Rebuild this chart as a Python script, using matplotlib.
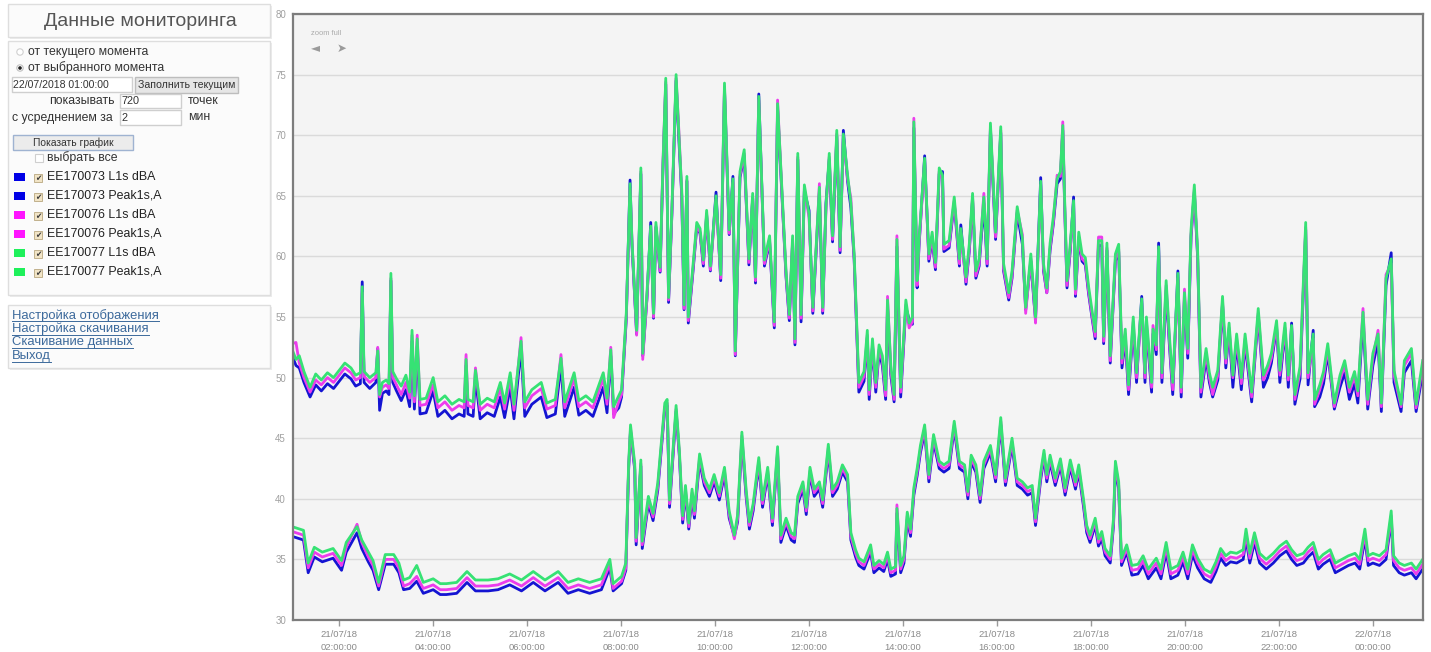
import numpy as np
import pandas as pd
import matplotlib
matplotlib.use("Agg")
import matplotlib.pyplot as plt
from matplotlib.patches import Rectangle, Circle

plt.rcParams['font.family'] = ['Liberation Sans', 'DejaVu Sans']

# ---- данные: часы от 21/07/18 01:00, уровни в дБ ----
# Peak1s,A (верхняя группа)
peak_t = [0.00, 0.08, 0.15, 0.25, 0.38, 0.50, 0.62, 0.75, 0.88, 1.00, 1.12, 1.25, 1.35, 1.45, 1.49, 1.53, 1.65, 1.78, 1.82, 1.86,
          1.92, 2.00, 2.06, 2.10, 2.14, 2.22, 2.32, 2.42, 2.50, 2.55, 2.60, 2.66, 2.72, 2.85, 3.00, 3.10, 3.25, 3.40, 3.55, 3.66,
          3.70, 3.74, 3.85, 3.90, 4.00, 4.15, 4.30, 4.43, 4.52, 4.64, 4.72, 4.87, 4.95, 5.10, 5.30, 5.42, 5.60, 5.72, 5.80, 6.00,
          6.10, 6.25, 6.40, 6.62, 6.70, 6.78, 6.84, 6.95, 7.01, 7.11, 7.19, 7.23, 7.33, 7.42, 7.46, 7.55, 7.63, 7.69, 7.74, 7.83,
          7.89, 7.95, 8.01, 8.08, 8.17, 8.23, 8.29, 8.34, 8.40, 8.43, 8.54, 8.61, 8.68, 8.75, 8.82, 8.90, 9.02, 9.12, 9.20, 9.30,
          9.38, 9.43, 9.53, 9.62, 9.72, 9.80, 9.86, 9.93, 10.05, 10.16, 10.26, 10.33, 10.44, 10.51, 10.58, 10.65, 10.70, 10.76, 10.83, 10.90,
          11.00, 11.08, 11.15, 11.22, 11.29, 11.36, 11.43, 11.50, 11.59, 11.66, 11.73, 11.82, 11.89, 11.96, 12.06, 12.17, 12.24, 12.28, 12.35, 12.42,
          12.49, 12.56, 12.63, 12.67, 12.74, 12.81, 12.87, 12.95, 13.06, 13.13, 13.20, 13.23, 13.30, 13.34, 13.46, 13.55, 13.62, 13.69, 13.77, 13.84,
          13.87, 13.98, 14.09, 14.20, 14.23, 14.34, 14.41, 14.48, 14.55, 14.62, 14.72, 14.79, 14.86, 14.97, 15.08, 15.14, 15.25, 15.32, 15.43, 15.54,
          15.61, 15.72, 15.79, 15.82, 15.93, 15.99, 16.06, 16.13, 16.20, 16.28, 16.35, 16.40, 16.44, 16.49, 16.56, 16.63, 16.67, 16.74, 16.81, 16.88,
          16.95, 17.02, 17.09, 17.16, 17.23, 17.27, 17.34, 17.41, 17.52, 17.59, 17.66, 17.73, 17.80, 17.90, 17.97, 18.08, 18.15, 18.18, 18.29, 18.32,
          18.39, 18.44, 18.51, 18.60, 18.67, 18.74, 18.85, 18.92, 18.99, 19.06, 19.13, 19.20, 19.27, 19.34, 19.45, 19.52, 19.59, 19.70, 19.80, 19.87,
          19.94, 20.02, 20.10, 20.20, 20.28, 20.42, 20.56, 20.67, 20.76, 20.84, 20.95, 21.02, 21.13, 21.20, 21.27, 21.34, 21.45, 21.57, 21.62, 21.73,
          21.76, 21.87, 21.95, 22.04, 22.18, 22.30, 22.40, 22.50, 22.61, 22.68, 22.79, 22.89, 23.00, 23.11, 23.18, 23.28, 23.39, 23.45, 23.60, 23.67,
          23.82, 23.92, 24.06]
peak_77 = [52.3, 51.5, 51.8, 50.5, 49.2, 50.3, 49.8, 50.4, 50.0, 50.6, 51.2, 50.8, 50.2, 50.4, 57.5, 50.5, 50.0, 50.4, 52.2, 48.6,
           49.6, 49.8, 49.5, 58.6, 50.5, 49.9, 49.3, 50.2, 48.8, 53.9, 48.5, 53.2, 48.2, 48.3, 50.0, 48.0, 48.5, 47.8, 48.2, 48.0,
           51.5, 48.2, 48.0, 50.6, 47.8, 48.3, 48.0, 49.6, 47.9, 50.4, 47.8, 53.0, 48.0, 49.0, 49.6, 47.9, 48.2, 51.6, 48.0, 50.4,
           48.1, 48.5, 48.0, 50.4, 48.3, 52.3, 47.6, 48.5, 49.0, 55.3, 66.0, 61.4, 53.9, 67.3, 52.0, 57.0, 62.5, 55.3, 62.8, 59.1,
           67.5, 74.7, 56.6, 63.8, 75.0, 70.0, 65.5, 56.0, 66.6, 55.0, 59.7, 62.8, 62.3, 59.7, 63.8, 59.2, 65.0, 58.5, 74.3, 62.2,
           66.4, 52.2, 67.0, 68.8, 59.8, 65.2, 58.3, 73.2, 59.7, 61.7, 54.6, 72.6, 64.1, 58.8, 55.2, 61.7, 53.2, 68.5, 55.2, 65.9,
           63.5, 55.8, 60.8, 65.7, 55.8, 64.1, 68.5, 61.7, 70.4, 60.8, 70.1, 66.7, 64.4, 60.2, 49.6, 50.5, 53.9, 49.0, 53.2, 49.6,
           52.7, 51.8, 49.0, 56.4, 51.0, 48.6, 61.4, 49.2, 56.4, 54.5, 55.0, 71.1, 58.0, 61.4, 68.1, 60.2, 62.0, 59.5, 67.3, 66.7,
           61.0, 61.3, 64.9, 59.8, 62.3, 58.3, 61.0, 65.2, 58.8, 59.8, 64.9, 59.8, 71.0, 62.0, 70.7, 59.4, 57.0, 58.8, 64.1, 61.5,
           55.8, 60.2, 56.7, 55.0, 66.2, 59.4, 57.4, 61.1, 63.3, 66.4, 67.0, 70.8, 64.7, 58.0, 61.1, 64.6, 57.3, 62.0, 60.2, 59.9,
           57.5, 55.6, 53.8, 61.3, 61.3, 53.4, 61.1, 51.8, 60.2, 61.0, 51.6, 54.0, 49.4, 55.0, 50.4, 56.5, 50.4, 55.0, 49.6, 54.0,
           52.7, 60.8, 50.4, 58.0, 53.4, 49.6, 58.6, 49.2, 57.0, 52.4, 62.2, 65.9, 60.5, 49.2, 52.4, 50.4, 49.2, 50.6, 56.7, 51.6,
           54.5, 50.2, 53.6, 50.0, 53.6, 48.8, 55.7, 50.2, 51.0, 52.0, 54.7, 50.6, 54.5, 50.2, 54.3, 48.6, 50.9, 62.8, 50.4, 53.6,
           48.2, 49.4, 50.5, 52.8, 47.9, 50.2, 51.4, 49.2, 50.5, 48.9, 55.4, 48.2, 52.0, 53.6, 47.9, 58.2, 59.8, 50.6, 47.8, 51.4,
           52.4, 47.8, 51.4]
peak_76 = [52.8, 52.9, 51.2, 50.0, 48.8, 49.8, 49.4, 50.0, 49.6, 50.2, 50.8, 50.4, 49.8, 50.0, 57.0, 50.1, 49.6, 50.0, 52.5, 48.4,
           49.2, 49.4, 49.1, 58.2, 50.0, 49.4, 48.6, 49.6, 48.3, 53.5, 48.0, 53.5, 47.7, 47.8, 49.4, 47.5, 48.0, 47.3, 47.7, 47.5,
           51.9, 47.7, 47.5, 50.8, 47.3, 47.8, 47.5, 49.1, 47.4, 49.9, 47.3, 53.3, 47.5, 48.5, 49.1, 47.4, 47.7, 51.9, 47.5, 49.9,
           47.6, 48.0, 47.5, 49.9, 47.8, 52.5, 46.7, 48.0, 48.6, 55.0, 65.6, 61.4, 53.5, 67.0, 51.5, 56.6, 62.2, 55.0, 62.5, 58.8,
           67.7, 74.4, 56.4, 63.5, 74.7, 70.3, 65.2, 55.7, 66.3, 54.7, 59.4, 62.5, 62.0, 59.4, 63.5, 58.9, 64.7, 58.2, 74.0, 61.9,
           66.1, 51.9, 66.7, 68.5, 59.5, 64.9, 58.0, 72.9, 59.4, 61.4, 54.3, 72.9, 63.8, 58.5, 54.9, 61.4, 52.9, 68.2, 54.9, 65.6,
           63.2, 55.5, 60.5, 66.0, 55.5, 63.8, 68.2, 61.4, 70.1, 60.5, 69.8, 66.4, 64.8, 59.9, 49.2, 50.1, 53.5, 48.6, 52.8, 49.2,
           52.3, 51.4, 48.5, 56.7, 50.6, 48.2, 61.7, 48.8, 56.0, 54.1, 54.6, 71.4, 57.6, 61.0, 67.8, 59.8, 61.6, 59.1, 67.0, 66.4,
           60.6, 60.9, 64.6, 59.4, 62.0, 57.9, 60.6, 64.9, 58.4, 59.4, 65.2, 59.4, 70.7, 61.6, 70.4, 59.0, 56.6, 58.4, 63.8, 61.8,
           55.3, 59.8, 56.3, 54.5, 65.9, 59.0, 57.0, 60.7, 62.9, 66.7, 66.6, 71.1, 64.3, 57.6, 60.7, 64.3, 56.9, 61.6, 59.8, 59.5,
           57.1, 55.2, 53.4, 61.6, 61.6, 53.0, 60.7, 51.4, 59.8, 60.6, 51.2, 53.6, 49.0, 54.6, 50.0, 56.1, 50.0, 54.6, 49.2, 54.3,
           52.3, 60.5, 50.0, 57.6, 53.0, 49.0, 58.2, 48.8, 57.3, 52.0, 61.8, 65.5, 60.1, 48.8, 52.0, 50.0, 48.6, 50.2, 56.3, 51.2,
           54.1, 50.0, 53.2, 49.5, 53.2, 48.4, 55.3, 49.8, 50.6, 51.6, 54.3, 50.2, 54.1, 49.8, 53.9, 48.2, 50.5, 62.4, 50.0, 53.2,
           47.8, 49.0, 50.1, 52.4, 47.6, 49.8, 51.0, 48.8, 50.1, 48.5, 55.7, 47.8, 51.6, 53.9, 47.6, 58.5, 59.4, 50.2, 47.6, 51.0,
           52.0, 47.5, 51.0]
peak_73 = [51.8, 51.0, 50.8, 49.6, 48.4, 49.4, 48.9, 49.5, 49.1, 49.7, 50.3, 49.9, 49.3, 49.5, 57.9, 49.6, 49.1, 49.6, 52.4, 47.3,
           48.7, 48.9, 48.6, 58.0, 49.6, 48.9, 48.1, 49.0, 47.6, 53.0, 47.4, 52.6, 47.0, 47.1, 48.9, 46.8, 47.3, 46.6, 47.0, 46.8,
           51.0, 47.0, 46.8, 50.0, 46.6, 47.1, 46.8, 48.4, 46.7, 49.2, 46.6, 52.4, 46.8, 47.8, 48.4, 46.7, 47.0, 51.0, 46.8, 49.2,
           46.9, 47.3, 46.8, 49.2, 47.1, 51.8, 47.0, 47.5, 48.4, 54.8, 66.3, 61.0, 53.6, 66.8, 51.8, 56.5, 62.8, 54.9, 62.4, 58.7,
           67.2, 74.2, 56.2, 63.4, 74.5, 69.6, 65.0, 55.6, 66.2, 54.5, 59.2, 62.4, 61.9, 59.2, 63.4, 58.8, 65.3, 58.0, 73.8, 61.8,
           66.6, 51.8, 66.5, 68.3, 59.3, 64.8, 57.8, 73.4, 59.2, 61.2, 54.1, 72.2, 63.6, 58.3, 54.7, 61.2, 52.7, 68.0, 54.6, 65.4,
           63.8, 55.3, 60.3, 65.3, 55.3, 64.4, 68.0, 61.2, 69.9, 60.3, 70.4, 66.2, 64.0, 59.7, 48.8, 49.7, 53.3, 48.2, 52.6, 48.8,
           52.1, 51.0, 48.2, 55.8, 50.2, 48.0, 60.8, 48.4, 55.8, 54.8, 54.4, 70.6, 57.4, 60.8, 68.3, 59.6, 61.4, 58.9, 66.8, 67.0,
           60.4, 60.7, 64.4, 59.2, 62.6, 57.7, 60.4, 64.7, 58.2, 59.2, 64.4, 59.2, 70.5, 61.4, 70.2, 58.8, 56.4, 58.2, 63.6, 61.0,
           55.6, 59.6, 56.1, 54.8, 66.5, 58.8, 57.0, 60.5, 62.7, 66.0, 66.4, 70.4, 64.1, 57.4, 60.5, 64.9, 56.7, 61.4, 59.6, 59.3,
           56.9, 55.0, 53.2, 60.9, 60.9, 52.8, 60.5, 51.2, 59.6, 60.4, 50.8, 53.2, 48.6, 54.2, 49.6, 56.7, 49.6, 54.2, 48.8, 53.6,
           51.9, 61.1, 49.6, 57.2, 52.6, 48.6, 58.8, 48.4, 56.6, 51.6, 61.6, 65.3, 59.9, 48.4, 51.6, 49.6, 48.4, 49.8, 56.1, 50.8,
           53.9, 49.2, 52.8, 49.0, 52.8, 48.0, 55.1, 49.2, 50.0, 51.2, 54.1, 49.6, 53.9, 49.2, 54.5, 47.8, 49.9, 62.2, 49.4, 53.9,
           47.6, 48.4, 49.5, 52.0, 47.4, 49.2, 50.4, 48.2, 49.5, 47.9, 54.8, 47.4, 51.0, 53.0, 47.2, 57.6, 60.3, 49.6, 47.2, 50.4,
           51.4, 47.2, 50.4]

# L1s dBA (нижняя группа)
l1s_t = [0.00, 0.24, 0.34, 0.47, 0.64, 0.87, 1.05, 1.15, 1.38, 1.48, 1.62, 1.72, 1.84, 1.98, 2.16, 2.27, 2.37, 2.50, 2.65, 2.79,
         3.00, 3.15, 3.28, 3.50, 3.72, 3.90, 4.17, 4.38, 4.63, 4.88, 5.13, 5.38, 5.66, 5.87, 6.09, 6.33, 6.58, 6.76, 6.83, 7.01,
         7.10, 7.16, 7.20, 7.29, 7.32, 7.42, 7.45, 7.58, 7.68, 7.78, 7.93, 7.98, 8.03, 8.17, 8.24, 8.31, 8.37, 8.44, 8.51, 8.56,
         8.67, 8.77, 8.88, 8.98, 9.09, 9.20, 9.30, 9.41, 9.48, 9.57, 9.66, 9.73, 9.81, 9.93, 10.01, 10.12, 10.22, 10.33, 10.40, 10.51,
         10.62, 10.69, 10.76, 10.87, 10.94, 11.02, 11.11, 11.22, 11.29, 11.41, 11.50, 11.60, 11.71, 11.82, 11.89, 11.99, 12.06, 12.17, 12.31, 12.38,
         12.49, 12.59, 12.67, 12.74, 12.84, 12.87, 12.95, 13.02, 13.09, 13.16, 13.23, 13.30, 13.37, 13.46, 13.55, 13.65, 13.77, 13.87, 13.98, 14.09,
         14.20, 14.31, 14.38, 14.45, 14.55, 14.64, 14.72, 14.86, 14.97, 15.08, 15.18, 15.32, 15.43, 15.54, 15.65, 15.75, 15.82, 15.93, 16.00, 16.06,
         16.13, 16.24, 16.35, 16.45, 16.56, 16.67, 16.74, 16.84, 16.91, 16.98, 17.09, 17.16, 17.23, 17.30, 17.41, 17.48, 17.52, 17.59, 17.65, 17.76,
         17.87, 18.00, 18.11, 18.22, 18.39, 18.49, 18.60, 18.70, 18.85, 18.96, 19.06, 19.16, 19.27, 19.41, 19.55, 19.66, 19.76, 19.87, 19.97, 20.10,
         20.24, 20.30, 20.38, 20.48, 20.59, 20.73, 20.88, 21.02, 21.16, 21.27, 21.38, 21.52, 21.62, 21.73, 21.84, 21.94, 22.09, 22.20, 22.34, 22.48,
         22.62, 22.72, 22.83, 22.90, 23.00, 23.14, 23.28, 23.39, 23.44, 23.56, 23.67, 23.82, 23.92, 24.06]
l1s_77 = [37.7, 37.4, 34.7, 36.0, 35.6, 35.9, 34.9, 36.4, 37.7, 36.6, 35.6, 34.9, 33.1, 35.4, 35.4, 34.7, 33.3, 33.5, 34.5, 33.1,
          33.4, 33.0, 33.0, 33.1, 34.0, 33.3, 33.3, 33.4, 33.8, 33.3, 34.0, 33.3, 34.0, 33.1, 33.4, 33.1, 33.4, 35.0, 33.0, 33.6,
          34.7, 42.9, 46.1, 42.9, 36.8, 43.2, 36.5, 40.2, 38.8, 41.3, 47.9, 48.2, 39.9, 47.7, 44.0, 38.6, 41.1, 38.0, 40.8, 39.0,
          43.7, 41.7, 40.8, 42.0, 40.5, 42.6, 39.0, 37.0, 38.7, 45.5, 40.8, 38.1, 39.6, 43.4, 39.9, 42.6, 38.4, 44.3, 37.0, 38.4,
          37.2, 37.0, 40.2, 41.4, 39.3, 42.6, 40.8, 41.4, 39.9, 44.5, 40.8, 41.4, 42.8, 42.0, 37.2, 35.8, 35.1, 34.8, 36.2, 34.5,
          34.9, 34.6, 35.6, 34.2, 34.4, 39.2, 34.5, 35.3, 38.9, 37.5, 40.9, 42.5, 44.4, 46.1, 42.0, 45.3, 43.1, 42.8, 43.1, 46.4,
          43.1, 42.8, 40.6, 43.6, 42.8, 40.3, 43.1, 44.4, 42.0, 46.7, 41.7, 45.0, 41.7, 41.4, 40.9, 41.1, 38.4, 42.2, 44.0, 42.0,
          43.6, 41.7, 43.3, 40.9, 43.2, 41.4, 42.8, 40.0, 37.8, 37.0, 38.4, 36.7, 37.3, 35.9, 35.3, 38.4, 43.1, 41.4, 35.1, 36.2,
          34.5, 34.6, 35.3, 34.2, 35.1, 34.2, 36.4, 34.2, 34.5, 35.6, 34.2, 36.2, 35.1, 34.2, 33.9, 34.8, 35.9, 35.3, 35.6, 35.5,
          35.8, 37.5, 35.5, 37.2, 35.5, 35.0, 35.5, 36.1, 36.5, 35.8, 35.3, 35.5, 36.0, 36.4, 35.0, 35.4, 35.8, 34.7, 35.0, 35.3,
          35.5, 35.0, 37.5, 35.3, 35.5, 35.3, 35.8, 39.0, 35.3, 34.7, 34.5, 34.7, 34.2, 35.0]
l1s_76 = [37.3, 37.0, 34.3, 35.6, 35.2, 35.5, 34.5, 36.0, 37.9, 36.4, 35.2, 34.5, 32.8, 35.0, 35.0, 34.3, 32.8, 33.0, 33.6, 32.6,
          32.9, 32.5, 32.5, 32.6, 33.5, 32.8, 32.8, 32.9, 33.3, 32.8, 33.5, 32.8, 33.5, 32.6, 32.9, 32.6, 32.9, 34.6, 32.6, 33.2,
          34.3, 42.6, 45.8, 42.6, 36.5, 42.9, 36.2, 39.9, 38.5, 41.0, 47.6, 47.9, 39.6, 47.4, 43.7, 38.3, 40.8, 37.7, 40.5, 38.7,
          43.4, 41.4, 40.5, 41.7, 40.2, 42.3, 38.7, 36.7, 38.4, 45.2, 40.5, 37.8, 39.3, 43.1, 39.6, 42.3, 38.1, 44.0, 36.7, 38.1,
          36.9, 36.7, 39.9, 41.1, 39.0, 42.3, 40.5, 41.1, 39.6, 44.2, 40.5, 41.1, 42.5, 41.7, 36.9, 35.5, 34.8, 34.5, 35.9, 34.2,
          34.6, 34.3, 35.3, 33.9, 34.1, 39.5, 34.2, 35.0, 38.6, 37.2, 40.6, 42.2, 44.1, 45.8, 41.7, 45.0, 42.8, 42.5, 42.8, 46.1,
          42.8, 42.5, 40.3, 43.3, 42.5, 40.0, 42.8, 44.1, 41.7, 46.4, 41.4, 44.7, 41.4, 41.1, 40.6, 40.8, 38.1, 41.9, 43.7, 41.7,
          43.3, 41.4, 43.0, 40.6, 42.9, 41.1, 42.5, 39.7, 37.5, 36.7, 38.1, 36.4, 37.0, 35.6, 35.0, 38.1, 42.8, 41.1, 34.8, 35.9,
          34.1, 34.2, 34.9, 33.8, 34.7, 33.8, 36.0, 33.8, 34.1, 35.2, 33.8, 35.8, 34.7, 33.8, 33.5, 34.4, 35.5, 34.9, 35.2, 35.1,
          35.4, 37.1, 35.1, 36.8, 35.1, 34.6, 35.1, 35.7, 36.1, 35.4, 34.9, 35.1, 35.6, 36.0, 34.6, 35.0, 35.4, 34.3, 34.6, 34.9,
          35.1, 34.6, 37.1, 34.9, 35.1, 34.9, 35.4, 38.6, 34.9, 34.3, 34.1, 34.3, 33.8, 34.6]
l1s_73 = [36.9, 36.6, 33.9, 35.2, 34.8, 35.1, 34.1, 35.6, 37.2, 35.9, 34.8, 34.1, 32.5, 34.6, 34.6, 33.9, 32.5, 32.6, 33.2, 32.2,
          32.5, 32.1, 32.1, 32.2, 33.1, 32.4, 32.4, 32.5, 32.9, 32.4, 33.1, 32.4, 33.1, 32.2, 32.5, 32.2, 32.5, 34.3, 32.4, 33.0,
          34.1, 42.4, 45.6, 42.4, 36.2, 42.7, 35.9, 39.6, 38.2, 40.7, 47.4, 47.7, 39.3, 47.2, 43.5, 38.0, 40.5, 37.5, 40.2, 38.4,
          43.1, 41.1, 40.2, 41.4, 39.9, 42.0, 38.4, 36.9, 38.1, 44.9, 40.2, 37.5, 39.0, 42.8, 39.3, 42.0, 37.8, 43.7, 36.4, 37.8,
          36.6, 36.4, 39.6, 40.8, 38.7, 42.0, 40.2, 40.8, 39.3, 43.9, 40.2, 40.8, 42.2, 41.4, 36.6, 35.2, 34.5, 34.2, 35.6, 33.9,
          34.3, 34.0, 35.0, 33.6, 33.8, 38.8, 33.9, 34.7, 38.3, 36.9, 40.3, 41.9, 43.8, 45.5, 41.4, 44.7, 42.5, 42.2, 42.5, 45.8,
          42.5, 42.2, 40.0, 43.0, 42.2, 39.7, 42.5, 43.8, 41.4, 46.1, 41.1, 44.4, 41.1, 40.8, 40.3, 40.5, 37.8, 41.6, 43.4, 41.4,
          43.0, 41.1, 42.7, 40.3, 42.6, 40.8, 42.2, 39.4, 37.2, 36.4, 37.8, 36.1, 36.7, 35.3, 34.7, 37.8, 42.5, 40.8, 34.5, 35.6,
          33.7, 33.8, 34.5, 33.4, 34.3, 33.4, 35.6, 33.4, 33.7, 34.8, 33.4, 35.4, 34.3, 33.4, 33.1, 34.0, 35.1, 34.5, 34.8, 34.7,
          35.0, 36.7, 34.7, 36.4, 34.7, 34.2, 34.7, 35.3, 35.7, 35.0, 34.5, 34.7, 35.2, 35.6, 34.2, 34.6, 35.0, 33.9, 34.2, 34.5,
          34.7, 34.2, 36.7, 34.5, 34.7, 34.5, 35.0, 38.3, 34.5, 33.9, 33.7, 33.9, 33.4, 34.2]

series_names = ['EE170073 L1s dBA', 'EE170073 Peak1s,A', 'EE170076 L1s dBA',
                'EE170076 Peak1s,A', 'EE170077 L1s dBA', 'EE170077 Peak1s,A']
series_colors = ['#1414d2', '#1414d2', '#ec3cec', '#ec3cec', '#36e274', '#36e274']
legend_colors = ['#0000e6', '#0000e6', '#ff14ff', '#ff14ff', '#1ef05a', '#1ef05a']
menu_links = ['Настройка отображения', 'Настройка скачивания', 'Скачивание данных', 'Выход']

start = pd.Timestamp('2018-07-21 01:00')


def to_time(hours):
    return start + pd.to_timedelta(np.asarray(hours), unit='h')


W, H = 1431, 652
fig = plt.figure(figsize=(W / 100, H / 100), dpi=100)
fig.patch.set_facecolor('white')

# ---- левая панель (форма управления) в пиксельных координатах ----
ui = fig.add_axes([0, 0, 1, 1])
ui.set_xlim(0, W)
ui.set_ylim(H, 0)
ui.axis('off')


def box(x0, y0, x1, y1, fc='white', ec='#dcdcdc', lw=1.0):
    ui.add_patch(Rectangle((x0, y0), x1 - x0, y1 - y0, fc=fc, ec=ec, lw=lw))


def txt(x, y, s, size=8.8, color='#333333', ha='left', **kw):
    return ui.text(x, y, s, fontsize=size, color=color, ha=ha, va='center', **kw)


# тени и рамки блоков
for y0, y1 in [(4, 37), (41, 295), (305, 368)]:
    box(10, y0 + 2, 272, y1 + 2, fc='#ececec', ec='none')
    box(8, y0, 270, y1, fc='#fbfbfb', ec='#dedede')

txt(140, 21, 'Данные мониторинга', size=14, color='#555555', ha='center')

# радиокнопки
ui.add_patch(Circle((20, 52), 3.2, fc='white', ec='#d0d0d0', lw=0.8))
txt(28, 51.5, 'от текущего момента')
ui.add_patch(Circle((20, 68), 3.2, fc='white', ec='#c0c0c0', lw=0.8))
ui.add_patch(Circle((20, 68), 1.8, fc='#222222', ec='none'))
txt(28, 67.5, 'от выбранного момента')

# поле даты и кнопка
box(12, 77, 132, 92, fc='white', ec='#cfcfcf')
txt(13, 85, '22/07/2018 01:00:00', size=7.6)
box(135, 77, 238, 93, fc='#e6e6e6', ec='#bdbdbd')
txt(186.5, 85, 'Заполнить текущим', size=7.6, ha='center')

txt(115, 100.5, 'показывать', ha='right')
box(120, 94, 181, 108, fc='white', ec='#cfcfcf')
txt(122, 101.5, '720', size=7.8)
txt(188, 100.5, 'точек')

txt(12, 117.5, 'с усреднением за')
box(120, 110, 181, 125, fc='white', ec='#cfcfcf')
txt(122, 118, '2', size=7.8)
txt(188, 117.5, 'мин')

box(13, 135, 133, 150, fc='#ececec', ec='#9fb3d1')
txt(73, 143, 'Показать график', size=7.4, ha='center')

box(35, 154, 43, 162, fc='white', ec='#cfcfcf', lw=0.8)
txt(47, 157.5, 'выбрать все')

# список каналов с цветовыми метками и галочками
row_y = [177, 196, 215, 234, 253, 272]
for yy, name, col in zip(row_y, series_names, legend_colors):
    ui.add_patch(Rectangle((14, yy - 4), 11, 8, fc=col, ec='none'))
    ui.add_patch(Rectangle((34, yy - 3), 8, 8, fc='#f1e4c6', ec='#b9a77f', lw=0.6))
    ui.text(38, yy + 1.2, '✔', fontsize=5.5, color='#3a3a3a', ha='center', va='center',
            family=['DejaVu Sans'])
    txt(47, yy, name, size=8.9, color='#222222')

# ссылки меню, подчёркивание по ширине текста
renderer = fig.canvas.get_renderer()
for yy, s in zip([315.5, 329, 342.5, 356], menu_links):
    t = txt(12, yy, s, size=9.4, color='#3d6a9c')
    bb = t.get_window_extent(renderer).transformed(ui.transData.inverted())
    ui.plot([bb.x0, bb.x1], [yy + 5.5, yy + 5.5], color='#3d6a9c', lw=0.7)

# ---- график ----
ax = fig.add_axes([293 / W, 1 - 620 / H, (1423 - 293) / W, (620 - 14) / H])
ax.set_facecolor('#f4f4f4')

times = [(l1s_t, l1s_73), (peak_t, peak_73), (l1s_t, l1s_76),
         (peak_t, peak_76), (l1s_t, l1s_77), (peak_t, peak_77)]
for (tt, vv), col in zip(times, series_colors):
    ax.plot(to_time(tt), vv, color=col, lw=2.0, solid_joinstyle='round')

ax.set_ylim(30, 80)
ax.set_yticks(np.arange(30, 81, 5))
ax.set_xlim(start + pd.Timedelta(minutes=1), start + pd.Timedelta(hours=24, minutes=4))

ticks = pd.date_range('2018-07-21 02:00', periods=12, freq='2h')
ax.set_xticks(ticks)
ax.set_xticklabels([d.strftime('%d/%m/%y\n%H:%M:%S') for d in ticks],
                   fontsize=6.8, color='#8a8a8a', linespacing=1.55)

ax.grid(axis='y', color='#dadada', lw=1.0)
ax.set_axisbelow(True)
ax.tick_params(axis='x', length=4, width=1, color='#9a9a9a', pad=3)
ax.tick_params(axis='y', length=0, labelsize=7, labelcolor='#a0a0a0', pad=5)
for sp in ax.spines.values():
    sp.set_color('#7d7d7d')
    sp.set_linewidth(1.6)

# кнопки масштабирования
ax.text(0.016, 0.966, 'zoom full', transform=ax.transAxes, fontsize=5.4, color='#aaaaaa')
ax.text(0.016, 0.938, '◄', transform=ax.transAxes, fontsize=8.5, color='#9a9a9a',
        family=['DejaVu Sans'])
ax.text(0.039, 0.938, '➤', transform=ax.transAxes, fontsize=8.5, color='#9a9a9a',
        family=['DejaVu Sans'])

fig.savefig('out.png', dpi=100)
